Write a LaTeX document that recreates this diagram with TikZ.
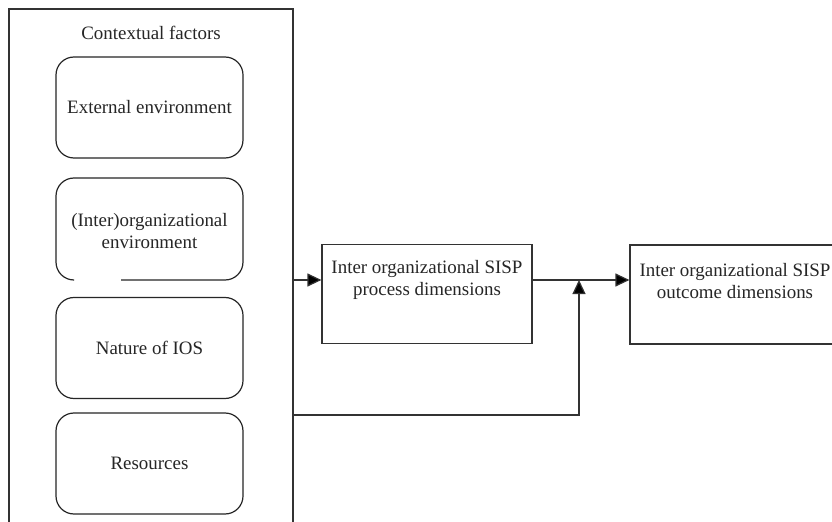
\documentclass[tikz,border=0pt]{standalone}
\usepackage{fontspec}
\setmainfont{Liberation Serif}
\usetikzlibrary{arrows.meta}
\begin{document}
\begin{tikzpicture}[x=1bp,y=-1bp,
  line width=1.2bp,
  every node/.style={text=black!85, font=\fontsize{19}{22}\selectfont, align=center, inner sep=0pt},
  frame/.style={draw=black!80, rectangle},
  factor/.style={draw=black!85, rectangle, rounded corners=18bp, minimum width=187bp, minimum height=101bp},
  stagebox/.style={draw=black!80, rectangle, minimum width=210bp, minimum height=99bp},
  arr/.style={draw=black!80, -{Triangle[length=14bp,width=13bp,fill=black]}},
  link/.style={draw=black!80}]
\clip (0,0) rectangle (832,522);
\fill[white] (0,0) rectangle (832,522);

% container of the contextual factors (runs past the lower edge)
\node[frame, minimum width=284bp, minimum height=540bp] (ctx) at (151,279) {};
\node (ctxtitle) at (151,33) {Contextual factors};

% factor boxes
\node[factor] (ext) at (149.5,107.5) {External environment};
\node (inter) at (149.5,231) {(Inter)organizational\\environment};
\draw[black!85, rounded corners=18bp]
  (121,280) -- (243,280) -- (243,178) -- (56,178) -- (56,280) -- (74,280);
\node[factor] (nature) at (149.5,348) {Nature of IOS};
\node[factor] (res) at (149.5,463.5) {Resources};

% process and outcome stages
\node[stagebox] (procbox) at (427,294) {};
\node (proc) at (427,280) {Inter organizational SISP\\process dimensions};
\node[stagebox] (outbox) at (735,294.5) {};
\node (outc) at (735,281) {Inter organizational SISP\\outcome dimensions};

% connectors
\coordinate (join) at (579,280);
\coordinate (fb) at (579,415);
\draw[arr] (ctx.east |- proc) -- (procbox.west |- proc);
\draw[arr] (procbox.east |- proc) -- (outbox.west |- proc);
\draw[arr] (ctx.east |- fb) -- (fb) -- (join);
\end{tikzpicture}
\end{document}
